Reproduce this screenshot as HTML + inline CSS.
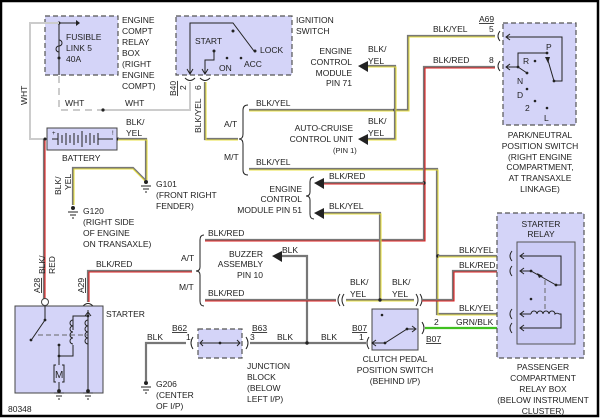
<!DOCTYPE html>
<html><head><meta charset="utf-8"><style>
html,body{margin:0;padding:0;background:#fff}
svg{display:block}
text{font-family:"Liberation Sans",sans-serif;font-size:8.5px;fill:#222}
.g{fill:none;stroke:#777;stroke-width:2.2}
.y{fill:none;stroke:#e8e040;stroke-width:1.1}
.r{fill:none;stroke:#e02020;stroke-width:1.1}
.gr{fill:none;stroke:#40c020;stroke-width:1.3}
.t{fill:none;stroke:#222;stroke-width:1}
.box{fill:#d4d4f8;stroke:#555;stroke-width:1.2;stroke-dasharray:5 3}
.sb{fill:#d4d4f8;stroke:#444;stroke-width:1}
</style></head><body>
<svg width="600" height="418" viewBox="0 0 600 418" xmlns="http://www.w3.org/2000/svg">
<rect x="1" y="1" width="597" height="415" fill="#fff" stroke="#000" stroke-width="2.5"/>

<!-- Fuse box -->
<rect class="box" x="45" y="16" width="73" height="59"/>
<path class="t" d="M59 75 V23 H76"/><path d="M76 20 L80 23 L76 26Z" fill="#222"/>
<path class="t" d="M59 40 a3 3 0 0 1 0 6 a3 3 0 0 0 0 6"/>
<circle cx="59" cy="23" r="1.5" fill="#222"/>
<circle cx="59" cy="58" r="1.5" fill="#222"/>
<text x="66" y="40">FUSIBLE</text><text x="66" y="51">LINK 5</text><text x="66" y="62">40A</text>
<text x="122" y="23">ENGINE</text><text x="122" y="34">COMPT</text><text x="122" y="45">RELAY</text><text x="122" y="56">BOX</text><text x="122" y="67">(RIGHT</text><text x="122" y="78">ENGINE</text><text x="122" y="89">COMPT)</text>

<!-- WHT wires -->
<path d="M59 23 H30 V139 H45" fill="none" stroke="#ccc" stroke-width="2"/>
<path d="M59 76 V110 H103" fill="none" stroke="#ccc" stroke-width="2" stroke-dasharray="7 5"/>
<path d="M103 110 H190 V82" fill="none" stroke="#ccc" stroke-width="2"/>
<circle cx="103" cy="110" r="1.6" fill="#222"/>
<text x="65" y="106">WHT</text><text x="125" y="106">WHT</text>
<text transform="translate(27,105) rotate(-90)">WHT</text>

<!-- Ignition switch -->
<rect class="box" x="176" y="16" width="116" height="59"/>
<path class="t" d="M190 73 V23 H233 L254 51"/><circle cx="233" cy="31" r="1.5" fill="#222"/><circle cx="255" cy="51" r="1.5" fill="#222"/>
<path d="M247 44 L253 50 L249 46Z" fill="#222"/>
<path class="t" d="M214 51 V60 H205 V73"/><circle cx="214" cy="51" r="1.5" fill="#222"/>
<path class="t" d="M187 69 L190 74 L193 69 M202 69 L205 74 L208 69"/>
<circle cx="227" cy="58" r="1.3" fill="#222"/><circle cx="241" cy="58" r="1.3" fill="#222"/>
<text x="195" y="44">START</text><text x="260" y="53">LOCK</text><text x="219" y="71">ON</text><text x="244" y="67">ACC</text>
<text x="296" y="23">IGNITION</text><text x="296" y="34">SWITCH</text>
<path class="t" d="M185 78 q5 5 10 0 M200 78 q5 5 10 0"/>
<text transform="translate(176,96) rotate(-90)" style="text-decoration:underline">B40</text>
<text transform="translate(186,90) rotate(-90)">2</text><text transform="translate(201,90) rotate(-90)">6</text>

<!-- BLK/YEL from ign 6 -->
<path class="g" d="M205 82 V139 H238"/><path class="y" d="M206 82 V140 H238"/>
<text transform="translate(201,133) rotate(-90)">BLK/YEL</text>
<path class="t" d="M248 105 q-5 0 -5 5 v24 q0 5 -4 5 q4 0 4 5 v26 q0 5 5 5"/>
<text x="224" y="127">A/T</text><text x="224" y="160">M/T</text>
<!-- A/T BLK/YEL -->
<path class="g" d="M249 110 H408 V36 H495"/><path class="y" d="M249 111 H409 V37 H495"/>
<text x="256" y="106">BLK/YEL</text>
<circle cx="395" cy="110" r="1.7" fill="#222"/>
<path class="g" d="M395 110 V66 H366"/><path class="y" d="M396 110 V67 H366"/>
<path d="M358 66 L368 61 L368 72Z" fill="#222"/>
<text x="368" y="52">BLK/</text><text x="368" y="64">YEL</text>
<text x="352" y="54" text-anchor="end">ENGINE</text><text x="352" y="65" text-anchor="end">CONTROL</text><text x="352" y="76" text-anchor="end">MODULE</text><text x="352" y="86" text-anchor="end">PIN 71</text>
<path class="g" d="M395 110 V139 H366"/><path class="y" d="M396 110 V140 H366"/>
<path d="M358 139 L368 134 L368 145Z" fill="#222"/>
<text x="368" y="124">BLK/</text><text x="368" y="136">YEL</text>
<text x="353" y="131" text-anchor="end">AUTO-CRUISE</text><text x="353" y="142" text-anchor="end">CONTROL UNIT</text><text x="333" y="153" style="font-size:7.5px">(PIN 1)</text>
<text x="433" y="32">BLK/YEL</text><text x="489" y="32">5</text>
<text x="479" y="22" style="text-decoration:underline">A69</text>

<!-- M/T BLK/YEL -->
<path class="g" d="M249 169 H437 V314 H508"/><path class="y" d="M249 170 H438 V315 H508"/>
<text x="256" y="165">BLK/YEL</text>
<circle cx="438" cy="256" r="1.7" fill="#222"/>
<path class="g" d="M438 256 H508"/><path class="y" d="M438 257 H508"/>
<text x="459" y="253">BLK/YEL</text><text x="505" y="253">2</text>
<text x="459" y="311">BLK/YEL</text><text x="505" y="311">3</text>

<!-- BLK/RED A69 pin 8 -->
<path class="g" d="M495 67 H424 V240 H205"/><path class="r" d="M495 68 H425 V241 H205"/>
<text x="433" y="63">BLK/RED</text><text x="489" y="63">8</text>
<circle cx="424" cy="183" r="1.7" fill="#222"/>
<path class="g" d="M424 183 H322"/><path class="r" d="M424 184 H322"/>
<path d="M314 183 L324 178 L324 189Z" fill="#222"/>
<text x="329" y="179">BLK/RED</text>
<path class="t" d="M314 177 q-4 0 -4 5 v10 q0 4 -4 4 q4 0 4 4 v14 q0 5 4 5"/>
<text x="302" y="192" text-anchor="end">ENGINE</text><text x="302" y="202" text-anchor="end">CONTROL</text><text x="302" y="213" text-anchor="end">MODULE PIN 51</text>
<path class="g" d="M380 300 V213 H322"/><path class="y" d="M381 300 V214 H322"/>
<path d="M314 213 L324 208 L324 219Z" fill="#222"/>
<text x="329" y="209">BLK/YEL</text>
<text x="208" y="236">BLK/RED</text>

<!-- Left brace A/T, M/T -->
<path class="t" d="M204 235 q-4 0 -4 5 v27 q0 4 -4 4 q4 0 4 4 v26 q0 5 4 5"/>
<text x="181" y="261">A/T</text><text x="179" y="290">M/T</text>
<!-- buzzer -->
<path class="g" d="M307 343 V256 H280"/>
<path d="M272 256 L282 251 L282 262Z" fill="#222"/>
<text x="282" y="253">BLK</text>
<text x="263" y="257" text-anchor="end">BUZZER</text><text x="263" y="267" text-anchor="end">ASSEMBLY</text><text x="263" y="278" text-anchor="end">PIN 10</text>
<!-- M/T BLK/RED path through clutch -->
<path class="g" d="M205 300 H336"/><path class="r" d="M205 301 H336"/>
<text x="208" y="296">BLK/RED</text>
<path class="t" d="M340 294 q-4 6 0 12 M344 294 q-4 6 0 12 M416 294 q4 6 0 12 M420 294 q4 6 0 12"/>
<path class="g" d="M346 300 H414"/><path class="y" d="M346 301 H414"/>
<circle cx="380" cy="300" r="1.7" fill="#222"/>
<text x="350" y="285">BLK/</text><text x="350" y="297">YEL</text><text x="392" y="285">BLK/</text><text x="392" y="297">YEL</text>
<path class="g" d="M422 300 H453 V271 H508"/><path class="r" d="M422 301 H454 V272 H508"/>
<text x="459" y="268">BLK/RED</text><text x="505" y="268">4</text>

<!-- Starter A29 wire -->
<path class="g" d="M88 302 V271 H192"/><path class="r" d="M89 302 V272 H192"/>
<text x="96" y="267">BLK/RED</text>
<!-- A28 red -->
<path class="g" d="M44 139 V300"/><path class="r" d="M45 139 V300"/>
<text transform="translate(45,274) rotate(-90)">BLK/</text><text transform="translate(55,274) rotate(-90)">RED</text>
<text transform="translate(40,293) rotate(-90)" style="text-decoration:underline">A28</text>
<text transform="translate(84,293) rotate(-90)" style="text-decoration:underline">A29</text>
<circle cx="45" cy="302" r="3.5" fill="#fff" stroke="#444"/>
<path class="t" d="M83 306 q5 -5 10 0"/>

<!-- Battery -->
<rect x="47" y="128" width="70" height="22" fill="#d4d4f8" stroke="#444"/>
<path class="t" d="M52 139 H58 M58 133 V145 M62 135 V143 M66 133 V145 M70 135 V143 M74 133 V145 M78 135 V143 M82 131 V147 M86 135 V143 M90 133 V145 M94 135 V143 M98 133 V145 M98 139 H113"/>
<circle cx="45" cy="139" r="1.5" fill="#222"/><circle cx="118" cy="139" r="1.5" fill="#222"/>
<text x="52" y="135" style="font-size:6px">+</text><text x="112" y="135" style="font-size:6px">!</text>
<text x="62" y="161">BATTERY</text>
<path class="g" d="M118 139 H146 V180"/><path class="y" d="M118 140 H147 V180"/>
<text x="126" y="125">BLK/</text><text x="126" y="136">YEL</text>
<path class="g" d="M73 205 V168 H133 L145 180"/><path class="y" d="M74 205 V169 H133 L145 181"/>
<text transform="translate(61,195) rotate(-90)">BLK/</text><text transform="translate(71,190) rotate(-90)">YEL</text>
<!-- grounds -->
<g class="t"><circle cx="146" cy="182" r="1.5" fill="#222"/><path d="M141 186 H151 M143 189 H149 M145 192 H147"/></g>
<text x="156" y="187">G101</text><text x="156" y="198">(FRONT RIGHT</text><text x="156" y="209">FENDER)</text>
<g class="t"><circle cx="73" cy="208" r="1.5" fill="#222"/><path d="M68 212 H78 M70 215 H76 M72 218 H74"/></g>
<text x="83" y="214">G120</text><text x="83" y="225">(RIGHT SIDE</text><text x="83" y="236">OF ENGINE</text><text x="83" y="247">ON TRANSAXLE)</text>

<!-- Starter -->
<rect x="15" y="306" width="88" height="87" class="sb"/>
<path class="t" d="M45 306 V320 L32 339"/><circle cx="45" cy="320" r="1.4" fill="#222"/><circle cx="31" cy="340" r="1.4" fill="#222"/>
<path d="M38 335 H88" stroke="#666" stroke-width="1" stroke-dasharray="5 3"/>
<path class="t" d="M88 310 V391 M88 312 L85 316 M88 312 L91 316 M88 316 H73 V330 M59 345 V356 H73 V345"/>
<path class="t" d="M73 320 a3 3 0 0 0 0 6 a3 3 0 0 0 0 6 a3 3 0 0 0 0 6 a3 3 0 0 0 0 6 M88 320 a3 3 0 0 0 0 6 a3 3 0 0 0 0 6 a3 3 0 0 0 0 6 a3 3 0 0 0 0 6"/>
<circle cx="59" cy="345" r="1.4" fill="#222"/><circle cx="59" cy="356" r="1.4" fill="#222"/><circle cx="88" cy="316" r="1.4" fill="#222"/>
<path class="t" d="M59 356 V365 M56 365 H54 V382 H56 M62 365 H64 V382 H62 M59 382 V391"/>
<text x="55" y="378" style="font-size:10px">M</text>
<g class="t"><circle cx="59" cy="391" r="1.4" fill="#222"/><path d="M54 393 H64 M56 396 H62 M58 399 H60"/><circle cx="88" cy="391" r="1.4" fill="#222"/><path d="M83 393 H93 M85 396 H91 M87 399 H89"/></g>
<text x="106" y="317">STARTER</text>
<text x="8" y="412">80348</text>

<!-- G206 / junction -->
<path class="g" d="M146 381 V343 H186"/>
<g class="t"><circle cx="146" cy="383" r="1.5" fill="#222"/><path d="M141 387 H151 M143 390 H149 M145 393 H147"/></g>
<text x="156" y="387">G206</text><text x="156" y="398">(CENTER</text><text x="156" y="409">OF I/P)</text>
<text x="147" y="340">BLK</text><text x="186" y="340">1</text><text x="172" y="331" style="text-decoration:underline">B62</text>
<rect class="box" x="198" y="329" width="44" height="29"/>
<path class="t" d="M193 337 q-4 6 0 12 M246 337 q4 6 0 12 M201 343 H240 M203 340 L200 343 L203 346 M237 340 L240 343 L237 346"/>
<circle cx="220" cy="343" r="1.4" fill="#222"/>
<text x="252" y="331" style="text-decoration:underline">B63</text><text x="250" y="340">3</text><text x="277" y="340">BLK</text>
<path class="g" d="M250 343 H366"/><circle cx="307" cy="343" r="1.7" fill="#222"/>
<text x="247" y="369">JUNCTION</text><text x="247" y="380">BLOCK</text><text x="247" y="391">(BELOW</text><text x="247" y="402">LEFT I/P)</text>
<text x="321" y="340">BLK</text><text x="359" y="340">1</text><text x="352" y="331" style="text-decoration:underline">B07</text>

<!-- Clutch switch -->
<rect x="372" y="309" width="46" height="41" class="sb"/>
<path class="t" d="M369 337 q-4 6 0 12 M372 343 H385 L407 329 H415 M412 326 L416 329 L412 332 M376 340 L372 343 L376 346"/>
<circle cx="385" cy="343" r="1.4" fill="#222"/><circle cx="407" cy="329" r="1.4" fill="#222"/><circle cx="382" cy="315" r="1.3" fill="#222"/>
<path class="t" d="M422 322 q4 6 0 12"/>
<text x="434" y="325">2</text><text x="426" y="342" style="text-decoration:underline">B07</text>
<path d="M425 328 H508" stroke="#40c020" stroke-width="2.2"/>
<text x="456" y="325">GRN/BLK</text><text x="505" y="325">1</text>
<text x="395" y="362" text-anchor="middle">CLUTCH PEDAL</text><text x="395" y="373" text-anchor="middle">POSITION SWITCH</text><text x="395" y="384" text-anchor="middle">(BEHIND I/P)</text>

<!-- Starter relay -->
<rect class="box" x="497" y="213" width="87" height="145"/>
<rect x="517" y="242" width="58" height="102" fill="#ccccf6" stroke="#555"/>
<text x="541" y="227" text-anchor="middle">STARTER</text><text x="541" y="237" text-anchor="middle">RELAY</text>
<g class="t">
<path d="M512 251 q-4 5 0 10 M512 266 q-4 5 0 10 M512 309 q-4 5 0 10 M512 323 q-4 5 0 10"/>
<path d="M520 256 H561 V285 H556 M520 271 H531 L556 285 M520 314 H531 M520 328 H561 V314 H559"/>
<path d="M524 253 L520 256 L524 259 M524 268 L520 271 L524 274 M524 311 L520 314 L524 317 M524 325 L520 328 L524 331"/>
<path d="M531 314 a3 3 0 0 1 6 0 a3 3 0 0 1 6 0 a3 3 0 0 1 6 0 a3 3 0 0 1 6 0 a3 3 0 0 1 4 0"/>
</g>
<path d="M545 280 V309" stroke="#666" stroke-dasharray="5 3"/>
<circle cx="531" cy="271" r="1.4" fill="#222"/><circle cx="556" cy="285" r="1.4" fill="#222"/><circle cx="531" cy="299" r="1.3" fill="#222"/>
<path d="M537 273 L543 276 L539 278Z" fill="#222"/>
<text x="543" y="370" text-anchor="middle">PASSENGER</text><text x="543" y="381" text-anchor="middle">COMPARTMENT</text><text x="543" y="392" text-anchor="middle">RELAY BOX</text><text x="543" y="403" text-anchor="middle">(BELOW INSTRUMENT</text><text x="543" y="414" text-anchor="middle">CLUSTER)</text>

<!-- Park/neutral -->
<rect class="box" x="503" y="23" width="73" height="102"/>
<g class="t">
<path d="M500 31 q-4 5 0 10 M500 61 q-4 5 0 10"/>
<path d="M506 37 H562 V81 H554 L547 57 M506 67 H518 V53 H547 M518 67 L527 73"/>
<path d="M510 34 L506 37 L510 40 M510 64 L506 67 L510 70"/>
</g>
<circle cx="547" cy="53" r="1.4" fill="#222"/><circle cx="554" cy="81" r="1.4" fill="#222"/><circle cx="518" cy="67" r="1.4" fill="#222"/><circle cx="527" cy="73" r="1.4" fill="#222"/>
<path d="M545 57 L548 63 L550 57Z" fill="#222"/>
<circle cx="535" cy="61" r="1.3" fill="#222"/><circle cx="527" cy="89" r="1.3" fill="#222"/><circle cx="535" cy="101" r="1.3" fill="#222"/><circle cx="547" cy="108" r="1.3" fill="#222"/>
<text x="546" y="50">P</text><text x="523" y="64">R</text><text x="517" y="84">N</text><text x="517" y="98">D</text><text x="525" y="111">2</text><text x="544" y="121">L</text>
<text x="540" y="138" text-anchor="middle">PARK/NEUTRAL</text><text x="540" y="149" text-anchor="middle">POSITION SWITCH</text><text x="540" y="160" text-anchor="middle">(RIGHT ENGINE</text><text x="540" y="170" text-anchor="middle">COMPARTMENT,</text><text x="540" y="181" text-anchor="middle">AT TRANSAXLE</text><text x="540" y="192" text-anchor="middle">LINKAGE)</text>
</svg>
</body></html>
